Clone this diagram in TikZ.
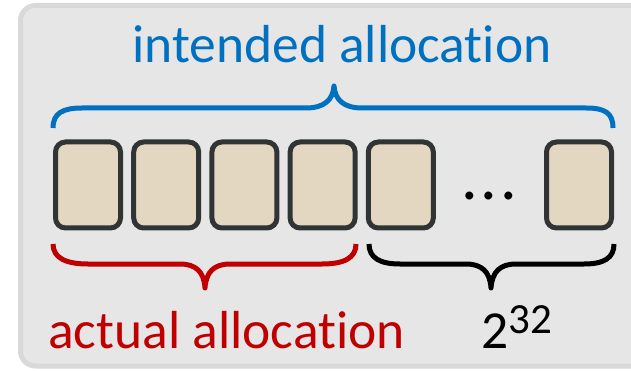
\documentclass[tikz,border=0pt]{standalone}
\usepackage{fontspec}
\setmainfont{Carlito}[Ligatures=NoCommon]
\definecolor{panelfill}{HTML}{E6E6E6}
\definecolor{panelline}{HTML}{D9D9D9}
\definecolor{cellfill}{HTML}{E4D7C1}
\definecolor{cellline}{HTML}{313435}
\definecolor{bblue}{HTML}{0070C0}
\definecolor{bred}{HTML}{C00000}
\tikzset{
  cell/.style={draw=cellline, fill=cellfill, line width=5pt, rounded corners=10pt,
    minimum width=65pt, minimum height=86pt, inner sep=0pt},
  bracestyle/.style={line width=5pt, line join=round},
  bigtext/.style={font=\fontsize{53.5}{60}\selectfont, inner sep=0pt, anchor=base}
}
\begin{document}
\begin{tikzpicture}[x=1pt,y=-1pt]
\useasboundingbox (0,0) rectangle (631,371);
% panel
\begin{scope}
\clip (0,0) rectangle (631,371);
\draw[draw=panelline, fill=panelfill, line width=5pt, rounded corners=15pt]
  (20.5,5.5) rectangle (660,366);
\end{scope}
% cells
\node[cell] (b1) at (88,185) {};
\node[cell] (b2) at (166.2,185) {};
\node[cell] (b3) at (244.4,185) {};
\node[cell] (b4) at (322.6,185) {};
\node[cell] (b5) at (400.8,185) {};
\node[cell] (b6) at (579,185) {};
\node[inner sep=0pt, anchor=base, font=\fontsize{66}{70}\selectfont] (dots) at (489,199.5) {.\hspace{3pt}.\hspace{3pt}.};
% blue brace
\draw[bracestyle, bblue] (53,128) .. controls (53,113) and (63,108) .. (82,108)
  -- (306,108) .. controls (324,108) and (333,100) .. (334,86)
  .. controls (335,100) and (344,108) .. (362,108)
  -- (586,108) .. controls (605,108) and (613,113) .. (613,128);
% red brace
\draw[bracestyle, bred] (53,244) .. controls (53,258) and (66,264) .. (88,264)
  -- (180,264) .. controls (196,264) and (204,272) .. (205,288)
  .. controls (206,272) and (214,264) .. (230,264)
  -- (322,264) .. controls (344,264) and (356,258) .. (356,244);
% black brace
\draw[bracestyle, black] (369,244) .. controls (369,258) and (380,264) .. (400,264)
  -- (466,264) .. controls (482,264) and (490,272) .. (491,288)
  .. controls (492,272) and (500,264) .. (516,264)
  -- (584,264) .. controls (604,264) and (614,258) .. (614,244);
% texts
\node[bigtext, text=bblue] (intended) at (342,63) {intended allocation};
\node[bigtext, text=bred] (actual) at (226.5,348) {actual allocation};
\node[bigtext, anchor=base west] (pow) at (481,348) {2\raisebox{15pt}{\fontsize{43}{48}\selectfont 32}};
\end{tikzpicture}
\end{document}
